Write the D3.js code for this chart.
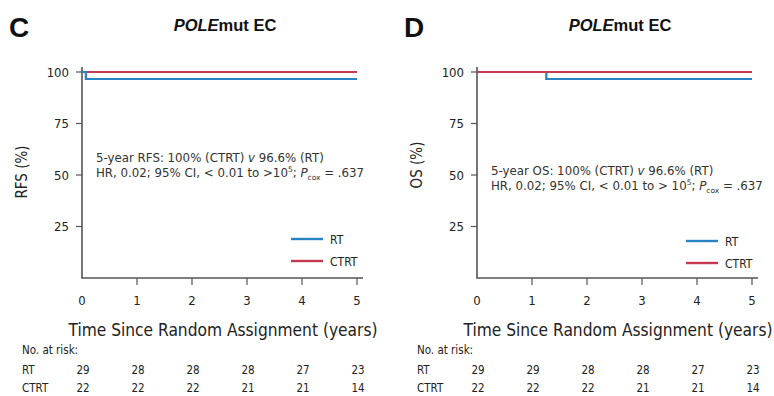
<!DOCTYPE html>
<html>
<head>
<meta charset="utf-8">
<script src="https://cdn.jsdelivr.net/npm/d3@7"></script>
<style>
  body { margin: 0; background: #fff; }
  svg { display: block; }
  text { font-family: "Liberation Sans Narrow", "DejaVu Sans Condensed", "Arial Narrow", "Liberation Sans", sans-serif; fill: #222; }
  .ann { font-family: "DejaVu Sans", "Liberation Sans", sans-serif; }
</style>
</head>
<body>
<svg id="chart" width="774" height="396"></svg>
<script>
'use strict';

// time points (years) and survival (%) for each step curve
var years = [0, 1, 2, 3, 4, 5];
var yTicks = [25, 50, 75, 100];

var rfsTimeRT = [0, 0.07, 5];
var rfsSurvRT = [100, 96.6, 96.6];
var rfsTimeCTRT = [0, 5];
var rfsSurvCTRT = [100, 100];

var osTimeRT = [0, 1.26, 5];
var osSurvRT = [100, 96.6, 96.6];
var osTimeCTRT = [0, 5];
var osSurvCTRT = [100, 100];

var riskRT_C = [29, 28, 28, 28, 27, 23];
var riskCTRT_C = [22, 22, 22, 21, 21, 14];
var riskRT_D = [29, 29, 28, 28, 27, 23];
var riskCTRT_D = [22, 22, 22, 21, 21, 14];

var seriesNames = ['RT', 'CTRT'];
var colors = { RT: '#2783c3', CTRT: '#c53a50' };

var svg = d3.select('#chart');

function zip(t, s) {
    return t.map(function(d, i) { return { t: d, s: s[i] }; });
}

function drawPanel(cfg) {
    var g = svg.append('g').attr('transform', 'translate(' + cfg.dx + ',0)');

    var x = d3.scaleLinear().domain([0, 5]).range([82, 357]);
    var y = d3.scaleLinear().domain([0, 100]).range([278, 72]);

    // panel letter and title
    g.append('text').attr('x', 9).attr('y', 37)
        .style('font-family', '"Liberation Sans", Arial, sans-serif')
        .style('font-weight', 'bold').style('font-size', '28px').style('fill', '#111')
        .text(cfg.letter);

    var title = g.append('text').attr('x', 225).attr('y', 31)
        .attr('text-anchor', 'middle')
        .style('font-family', '"Liberation Sans", Arial, sans-serif')
        .style('font-weight', 'bold').style('font-size', '16.5px').style('fill', '#111');
    title.append('tspan').style('font-style', 'italic').text('POLE');
    title.append('tspan').text('mut EC');

    // axes
    var axisColor = '#555';
    g.append('line').attr('x1', 82).attr('x2', 82).attr('y1', 67).attr('y2', 278)
        .attr('stroke', axisColor).attr('stroke-width', 1.6);
    g.append('line').attr('x1', 81.2).attr('x2', 363).attr('y1', 278).attr('y2', 278)
        .attr('stroke', axisColor).attr('stroke-width', 1.6);

    g.selectAll('.ytick').data(yTicks).enter().append('line')
        .attr('x1', 76).attr('x2', 82)
        .attr('y1', function(d) { return y(d); }).attr('y2', function(d) { return y(d); })
        .attr('stroke', axisColor).attr('stroke-width', 1.2);
    g.selectAll('.ylab').data(yTicks).enter().append('text')
        .attr('x', 69).attr('y', function(d) { return y(d) + 4.5; })
        .attr('text-anchor', 'end').style('font-size', '13px')
        .text(function(d) { return d; });

    g.selectAll('.xtick').data(years.slice(1)).enter().append('line')
        .attr('x1', function(d) { return x(d); }).attr('x2', function(d) { return x(d); })
        .attr('y1', 278).attr('y2', 285)
        .attr('stroke', axisColor).attr('stroke-width', 1.2);
    g.selectAll('.xlab').data(years).enter().append('text')
        .attr('x', function(d) { return x(d); }).attr('y', 305)
        .attr('text-anchor', 'middle').style('font-size', '13px')
        .text(function(d) { return d; });

    g.append('text').attr('x', 223).attr('y', 336)
        .attr('text-anchor', 'middle').style('font-size', '17.2px')
        .text('Time Since Random Assignment (years)');

    g.append('text')
        .attr('transform', 'translate(27,' + cfg.yLabelY + ') rotate(-90)')
        .attr('text-anchor', 'middle').style('font-size', '15px')
        .text(cfg.yLabel);

    // curves
    var line = d3.line()
        .x(function(d) { return x(d.t); })
        .y(function(d) { return y(d.s); })
        .curve(d3.curveStepAfter);

    cfg.curves.forEach(function(c) {
        g.append('path').datum(zip(c.t, c.s))
            .attr('d', line)
            .attr('fill', 'none')
            .attr('stroke', colors[c.name])
            .attr('stroke-width', 2.2);
    });

    // annotation
    var ann = g.append('text').attr('class', 'ann').attr('x', cfg.annX).attr('y', cfg.annY)
        .style('font-size', '11.8px').style('fill', '#333');
    ann.append('tspan').text(cfg.annLine1 + ' ');
    ann.append('tspan').style('font-style', 'italic').text('v');
    ann.append('tspan').text(' 96.6% (RT)');

    var ann2 = g.append('text').attr('class', 'ann').attr('x', cfg.annX).attr('y', cfg.annY + 15)
        .style('font-size', '11.8px').style('fill', '#333');
    ann2.append('tspan').text(cfg.annLine2);
    ann2.append('tspan').attr('dy', -5).style('font-size', '7.5px').text('5');
    ann2.append('tspan').attr('dy', 5).text('; ');
    ann2.append('tspan').style('font-style', 'italic').text('P');
    ann2.append('tspan').attr('dy', 3).style('font-size', '7.5px').text('cox');
    ann2.append('tspan').attr('dy', -3).text(' = .637');

    // legend
    seriesNames.forEach(function(name, i) {
        var ly = cfg.legY + i * 22;
        g.append('line').attr('x1', 291).attr('x2', 323).attr('y1', ly).attr('y2', ly)
            .attr('stroke', colors[name]).attr('stroke-width', 2.4);
        g.append('text').attr('x', 330).attr('y', ly + 4.5)
            .style('font-size', '12px').text(name);
    });

    // number at risk
    g.append('text').attr('x', 22).attr('y', 354).style('font-size', '11.5px').text('No. at risk:');
    [['RT', cfg.riskRT, 374], ['CTRT', cfg.riskCTRT, 392]].forEach(function(r) {
        g.append('text').attr('x', 22).attr('y', r[2]).style('font-size', '11.5px').text(r[0]);
        g.selectAll('.risk' + r[0]).data(r[1]).enter().append('text')
            .attr('x', function(d, i) { return x(years[i]) + 1; }).attr('y', r[2])
            .attr('text-anchor', 'middle').style('font-size', '11.5px')
            .text(function(d) { return d; });
    });
}

drawPanel({
    dx: 0, letter: 'C', yLabel: 'RFS (%)', yLabelY: 172,
    curves: [
        { name: 'CTRT', t: rfsTimeCTRT, s: rfsSurvCTRT },
        { name: 'RT', t: rfsTimeRT, s: rfsSurvRT }
    ],
    annX: 96, annY: 162,
    annLine1: '5-year RFS: 100% (CTRT)',
    annLine2: 'HR, 0.02; 95% CI, < 0.01 to >10',
    legY: 239,
    riskRT: riskRT_C, riskCTRT: riskCTRT_C
});

drawPanel({
    dx: 395, letter: 'D', yLabel: 'OS (%)', yLabelY: 165,
    curves: [
        { name: 'RT', t: osTimeRT, s: osSurvRT },
        { name: 'CTRT', t: osTimeCTRT, s: osSurvCTRT }
    ],
    annX: 96, annY: 175,
    annLine1: '5-year OS: 100% (CTRT)',
    annLine2: 'HR, 0.02; 95% CI, < 0.01 to > 10',
    legY: 241,
    riskRT: riskRT_D, riskCTRT: riskCTRT_D
});
</script>
</body>
</html>
